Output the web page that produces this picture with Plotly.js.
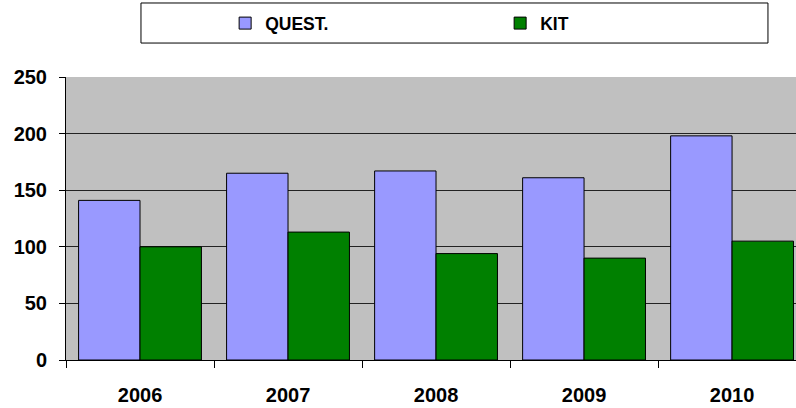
<!DOCTYPE html>
<html>
<head>
<meta charset="utf-8">
<script src="https://cdn.plot.ly/plotly-3.0.1.min.js"></script>
<style>html,body{margin:0;padding:0;background:#fff;}#chart{width:796px;height:408px;}</style>
</head>
<body>
<div id="chart"></div>
<script>
var years = ['2006', '2007', '2008', '2009', '2010'];
var questValues = [141, 165, 167, 161, 198];
var kitValues = [100, 113, 94, 90, 105];
var seriesNames = ['QUEST.', 'KIT'];
var yTicks = [0, 50, 100, 150, 200, 250];

var font = {family: '"Liberation Sans", Arial, sans-serif', size: 20, color: '#000'};

var data = [
  {type: 'bar', name: seriesNames[0], x: years, y: questValues,
   marker: {color: '#9999ff', line: {color: '#000', width: 1}}, hoverinfo: 'x+y'},
  {type: 'bar', name: seriesNames[1], x: years, y: kitValues,
   marker: {color: '#008000', line: {color: '#000', width: 1}}, hoverinfo: 'x+y'}
];

var layout = {
  width: 796, height: 408,
  margin: {l: 66, r: 0, t: 77, b: 48, pad: 0},
  paper_bgcolor: '#ffffff',
  plot_bgcolor: '#c0c0c0',
  font: font,
  barmode: 'group',
  bargap: 0.17,
  bargroupgap: 0,
  showlegend: true,
  legend: {
    orientation: 'h', xref: 'paper', yref: 'paper',
    x: 0.218, xanchor: 'left', y: 1.19, yanchor: 'middle',
    entrywidth: 230, entrywidthmode: 'pixels',
    bgcolor: 'rgba(0,0,0,0)', borderwidth: 0,
    font: {family: font.family, size: 17.5, color: '#000', weight: 'bold'},
    itemclick: false, itemdoubleclick: false
  },
  shapes: [{
    type: 'rect', xref: 'paper', yref: 'paper', layer: 'below',
    x0: 0.1027, x1: 0.9616, y0: 1.120, y1: 1.2615,
    line: {color: '#000', width: 1}, fillcolor: '#ffffff'
  }],
  xaxis: {
    type: 'category', range: [-0.5, 4.432],
    tickson: 'boundaries', ticks: 'outside', ticklen: 7, tickcolor: '#000', tickwidth: 1,
    showline: true, linecolor: '#000', linewidth: 1,
    showgrid: false, zeroline: false, fixedrange: true,
    tickfont: {family: font.family, size: 20, color: '#000', weight: 'bold'},
    ticklabelstandoff: 17
  },
  yaxis: {
    range: [0, 250], tickvals: yTicks, ticktext: yTicks.map(String),
    ticks: 'outside', ticklen: 6, tickcolor: '#000', tickwidth: 1,
    showline: true, linecolor: '#000', linewidth: 1,
    showgrid: true, gridcolor: '#222', gridwidth: 1,
    zeroline: false, fixedrange: true,
    tickfont: {family: font.family, size: 20, color: '#000', weight: 'bold'},
    ticklabelstandoff: 8
  }
};

Plotly.newPlot('chart', data, layout, {displayModeBar: false, staticPlot: false});
</script>
</body>
</html>
